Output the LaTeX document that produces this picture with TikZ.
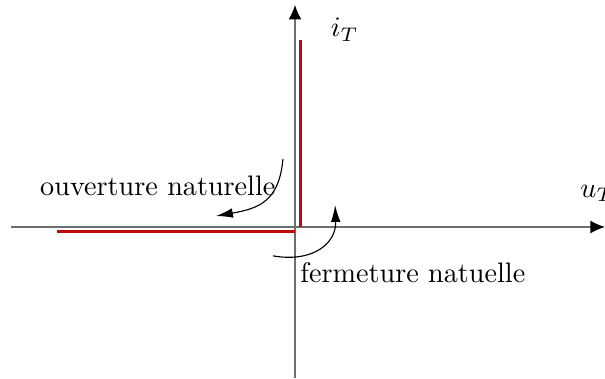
\documentclass[tikz,border=0pt]{standalone}
\usepackage{amsmath}
\usepackage{tikz}
\usetikzlibrary{calc, positioning, arrows.meta}
\definecolor{axisgray}{RGB}{110, 110, 110}
\definecolor{switchred}{RGB}{190, 10, 10}

\begin{document}
\begin{tikzpicture}[font=\normalsize,
    axis/.style={-{Latex[length=5.2pt,width=4.6pt,color=black]}, draw=axisgray, line width=0.5pt},
    carac/.style={draw=switchred, line width=1.2pt},
    commut/.style={-{Latex[length=6pt,width=3.4pt]}, black, line width=0.4pt}]
  \useasboundingbox (-3.678,-1.883) rectangle (3.865,2.830);
  % axes u_T, i_T
  \coordinate (xmin) at (-3.54,0);
  \coordinate (xmax) at (3.865,0);
  \coordinate (ymin) at (0,-1.883);
  \coordinate (ymax) at (0,2.77);
  \draw[axis] (xmin) -- (xmax);
  \draw[axis] (ymin) -- (ymax);
  \node (uT) at (3.77,0.42) {$u_T$};
  \node (iT) at (0.62,2.46) {$i_T$};

  % caracteristique de l'interrupteur
  \coordinate (ihaut) at (0.07,2.33);
  \coordinate (ibas) at (0.07,0);
  \draw[carac] (ihaut) -- (ibas);
  \coordinate (ugauche) at (-2.97,-0.06);
  \coordinate (udroite) at (0,-0.06);
  \draw[carac] (ugauche) -- (udroite);

  % commutations
  \node (ouv) at (-1.71,0.51) {ouverture naturelle};
  \coordinate (ouvA) at (-0.15,0.85);
  \coordinate (ouvB) at (-0.985,0.137);
  \draw[commut] (ouvA) to[out=-95,in=10,looseness=1.25] (ouvB);

  \node (ferm) at (1.47,-0.57) {fermeture natuelle};
  \coordinate (fermA) at (-0.274,-0.36);
  \coordinate (fermB) at (0.50,0.274);
  \draw[commut] (fermA) to[out=-10,in=-88,looseness=1.25] (fermB);
\end{tikzpicture}
\end{document}
